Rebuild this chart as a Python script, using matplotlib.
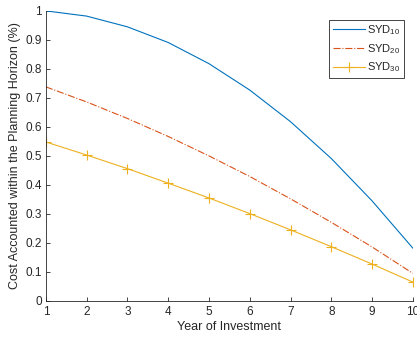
import numpy as np
import matplotlib
matplotlib.use("Agg")
import matplotlib.pyplot as plt

plt.rcParams['font.family'] = ['Liberation Sans', 'DejaVu Sans']
plt.rcParams['mathtext.fontset'] = 'custom'
plt.rcParams['mathtext.rm'] = 'Liberation Sans'

years = [1, 2, 3, 4, 5, 6, 7, 8, 9, 10]
syd10 = [1.000, 0.982, 0.945, 0.891, 0.818, 0.727, 0.618, 0.491, 0.345, 0.182]
syd20 = [0.738, 0.686, 0.629, 0.567, 0.500, 0.429, 0.352, 0.271, 0.186, 0.095]
syd30 = [0.548, 0.503, 0.456, 0.406, 0.355, 0.301, 0.245, 0.187, 0.127, 0.065]

fig = plt.figure(figsize=(4.17, 3.40), dpi=100)
ax = fig.add_axes([0.110, 0.115, 0.880, 0.853])

ax.plot(years, syd10, '-', color='#0072BD', lw=0.8, label=r'SYD$_{\rm 10}$')
ax.plot(years, syd20, '-.', color='#D95319', lw=0.8, label=r'SYD$_{\rm 20}$')
ax.plot(years, syd30, '-', color='#EDB120', lw=0.8, marker='+', ms=7,
        mew=0.8, label=r'SYD$_{\rm 30}$')

ax.set_xlim(1, 10)
ax.set_ylim(0, 1)
ax.set_xticks(years)
ax.set_yticks(np.arange(0, 1.01, 0.1))
ax.set_yticklabels(['0', '0.1', '0.2', '0.3', '0.4', '0.5', '0.6', '0.7',
                    '0.8', '0.9', '1'])

gray = '#262626'
for side in ['top', 'right']:
    ax.spines[side].set_visible(False)
for side in ['left', 'bottom']:
    ax.spines[side].set_color(gray)
    ax.spines[side].set_linewidth(0.6)
ax.tick_params(direction='in', length=3, width=0.6, colors=gray,
               labelsize=8.5, labelcolor=gray)
ax.tick_params(axis='x', pad=4)
ax.tick_params(axis='y', pad=3)

ax.set_xlabel('Year of Investment', fontsize=9, color=gray, labelpad=2)
ax.set_ylabel('Cost Accounted within the Planning Horizon (%)', fontsize=9,
              color=gray, labelpad=3)

leg = ax.legend(loc='upper right', bbox_to_anchor=(0.975, 0.97), fontsize=8,
                fancybox=False, framealpha=1, edgecolor=gray,
                handlelength=2.9, borderpad=0.3, labelspacing=0.45,
                handletextpad=0.2, borderaxespad=0.0)
leg.get_frame().set_linewidth(0.6)
for t in leg.get_texts():
    t.set_color(gray)

fig.savefig('out.png', dpi=100)
